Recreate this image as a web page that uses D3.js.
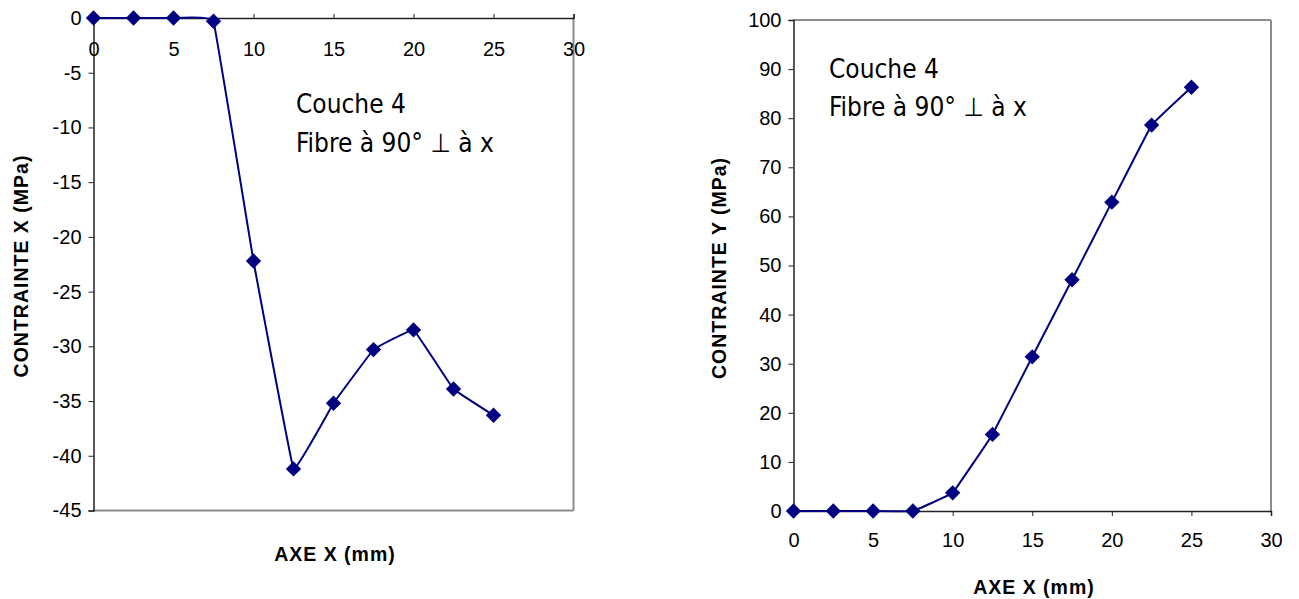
<!DOCTYPE html>
<html>
<head>
<meta charset="utf-8">
<script src="https://cdn.jsdelivr.net/npm/d3@7"></script>
<style>
  body { margin: 0; background: #fff; }
  svg { display: block; }
</style>
</head>
<body>
<svg id="chart" width="1299" height="599"></svg>
<script>
// ---- Data ----
const positionsMm = [0, 2.5, 5, 7.5, 10, 12.5, 15, 17.5, 20, 22.5, 25];
const contrainteX = [0, 0, 0, -0.3, -22.2, -41.2, -35.2, -30.3, -28.5, -33.9, -36.3];
const contrainteY = [0, 0, 0, 0, 3.7, 15.6, 31.4, 47.1, 62.9, 78.6, 86.3];
const xTicks = [0, 5, 10, 15, 20, 25, 30];
const yTicksLeft = [0, -5, -10, -15, -20, -25, -30, -35, -40, -45];
const yTicksRight = [0, 10, 20, 30, 40, 50, 60, 70, 80, 90, 100];
const annotationLines = ["Couche 4", "Fibre à 90° \u22A5 à x"];
const xTitle = "AXE X (mm)";
const yTitleLeft = "CONTRAINTE X (MPa)";
const yTitleRight = "CONTRAINTE Y (MPa)";

const navy = "#000080";
const svg = d3.select("#chart");
const tickFont = "'Liberation Sans', Arial, sans-serif";
const annFont = "'DejaVu Sans Condensed', 'DejaVu Sans', sans-serif";
const fmt = d => String(d);
const curve = d3.curveCardinal.tension(0.85);

function diamond(g, pts) {
  g.selectAll("path.mk").data(pts).enter().append("path")
    .attr("class", "mk")
    .attr("d", d3.symbol().type(d3.symbolDiamond2).size(150))
    .attr("transform", d => `translate(${d[0]},${d[1]})`)
    .attr("fill", navy);
}

function styleAxis(sel) {
  sel.select(".domain").attr("stroke", "#222").attr("stroke-width", 1.5);
  sel.selectAll(".tick line").attr("stroke", "#222");
  sel.selectAll("text").attr("font-family", tickFont).attr("font-size", 20).attr("fill", "#000");
}

function titles(g, xt, xx, xy, yt, yx, yy) {
  g.append("text").attr("x", xx).attr("y", xy).attr("text-anchor", "middle")
    .attr("font-family", tickFont).attr("font-weight", "bold").attr("font-size", 19.5)
    .attr("letter-spacing", 1).text(xt);
  g.append("text").attr("transform", `translate(${yx},${yy}) rotate(-90)`).attr("text-anchor", "middle")
    .attr("font-family", tickFont).attr("font-weight", "bold").attr("font-size", 19.5)
    .attr("letter-spacing", 1).text(yt);
}

// ---------- LEFT CHART ----------
{
  const x = d3.scaleLinear().domain([0, 30]).range([93.5, 573.5]);
  const y = d3.scaleLinear().domain([-45, 0]).range([510.5, 18]);
  const g = svg.append("g");

  g.append("line").attr("x1", x(30)).attr("x2", x(30)).attr("y1", y(0)).attr("y2", y(-45))
    .attr("stroke", "#8c8c8c").attr("stroke-width", 2);
  g.append("line").attr("x1", x(0)).attr("x2", x(30)).attr("y1", y(-45)).attr("y2", y(-45))
    .attr("stroke", "#8c8c8c").attr("stroke-width", 2);

  const yg = g.append("g").attr("transform", `translate(${x(0)},0)`)
    .call(d3.axisLeft(y).tickValues(yTicksLeft).tickSize(5).tickPadding(7).tickFormat(fmt));
  styleAxis(yg);

  const xg = g.append("g").attr("transform", `translate(0,${y(0)})`)
    .call(d3.axisTop(x).tickValues(xTicks).tickSize(4).tickFormat(fmt));
  styleAxis(xg);
  xg.selectAll("text").attr("y", 38);

  const pts = positionsMm.map((p, i) => [x(p), y(contrainteX[i])]);
  g.append("path").datum(pts)
    .attr("d", d3.line().curve(curve))
    .attr("fill", "none").attr("stroke", navy).attr("stroke-width", 2);
  diamond(g, pts);

  const ann = g.append("text").attr("font-family", annFont).attr("font-size", 26).attr("fill", "#000");
  annotationLines.forEach((t, i) => ann.append("tspan").attr("x", 296).attr("y", 113 + i * 39).text(t));

  titles(g, xTitle, 335, 561, yTitleLeft, 28, 266);
}

// ---------- RIGHT CHART ----------
{
  const x = d3.scaleLinear().domain([0, 30]).range([793.5, 1271]);
  const y = d3.scaleLinear().domain([0, 100]).range([511, 20]);
  const g = svg.append("g");

  g.append("line").attr("x1", x(30)).attr("x2", x(30)).attr("y1", y(0)).attr("y2", y(100))
    .attr("stroke", "#8c8c8c").attr("stroke-width", 2);
  g.append("line").attr("x1", x(0)).attr("x2", x(30)).attr("y1", y(100)).attr("y2", y(100))
    .attr("stroke", "#8c8c8c").attr("stroke-width", 2);

  const yg = g.append("g").attr("transform", `translate(${x(0)},0)`)
    .call(d3.axisLeft(y).tickValues(yTicksRight).tickSize(5).tickPadding(7).tickFormat(fmt));
  styleAxis(yg);

  const xg = g.append("g").attr("transform", `translate(0,${y(0)})`)
    .call(d3.axisBottom(x).tickValues(xTicks).tickSize(5).tickPadding(17).tickFormat(fmt));
  styleAxis(xg);

  const pts = positionsMm.map((p, i) => [x(p), y(contrainteY[i])]);
  g.append("path").datum(pts)
    .attr("d", d3.line().curve(curve))
    .attr("fill", "none").attr("stroke", navy).attr("stroke-width", 2);
  diamond(g, pts);

  const ann = g.append("text").attr("font-family", annFont).attr("font-size", 26).attr("fill", "#000");
  annotationLines.forEach((t, i) => ann.append("tspan").attr("x", 829).attr("y", 78 + i * 38).text(t));

  titles(g, xTitle, 1034, 594, yTitleRight, 726, 268);
}
</script>
</body>
</html>
